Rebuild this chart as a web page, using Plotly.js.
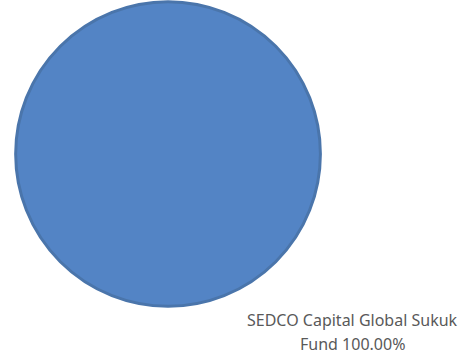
<!DOCTYPE html>
<html>
<head>
<meta charset="utf-8">
<script src="https://cdn.plot.ly/plotly-3.0.1.min.js"></script>
<style>html,body{margin:0;padding:0;background:#fff;}#chart{width:476px;height:356px;}</style>
</head>
<body>
<div id="chart"></div>
<script>
var labels = ["SEDCO Capital Global Sukuk Fund"];
var values = [100];
var colors = ["#5384C5"];

var total = values.reduce(function(a,b){return a+b;},0);
var nameLine = "SEDCO Capital Global Sukuk";
var pctLine = "Fund " + (values[0]/total*100).toFixed(2) + "%";

var dom = {x:[0.033, 0.673], y:[0.139, 0.996]};
var traces = [
  {type:"pie", labels:labels, values:values, sort:false, domain:dom,
   marker:{colors:colors, line:{color:"#4A75AB", width:3}}, textinfo:"none", hoverinfo:"label+percent", showlegend:false}
];
var font = {family:"Noto Sans, Open Sans, sans-serif", size:16, color:"#595959"};
var layout = {
  width:476, height:356,
  margin:{l:0,r:0,t:0,b:0},
  paper_bgcolor:"#fff", plot_bgcolor:"#fff",
  showlegend:false,
  annotations:[
    {text:nameLine, x:352/476, y:1-320/356, xref:"paper", yref:"paper",
     xanchor:"center", yanchor:"middle", showarrow:false, font:font},
    {text:pctLine, x:352/476, y:1-344/356, xref:"paper", yref:"paper",
     xanchor:"center", yanchor:"middle", showarrow:false, font:font}
  ]
};
Plotly.newPlot("chart", traces, layout, {displayModeBar:false, staticPlot:true});
</script>
</body>
</html>
